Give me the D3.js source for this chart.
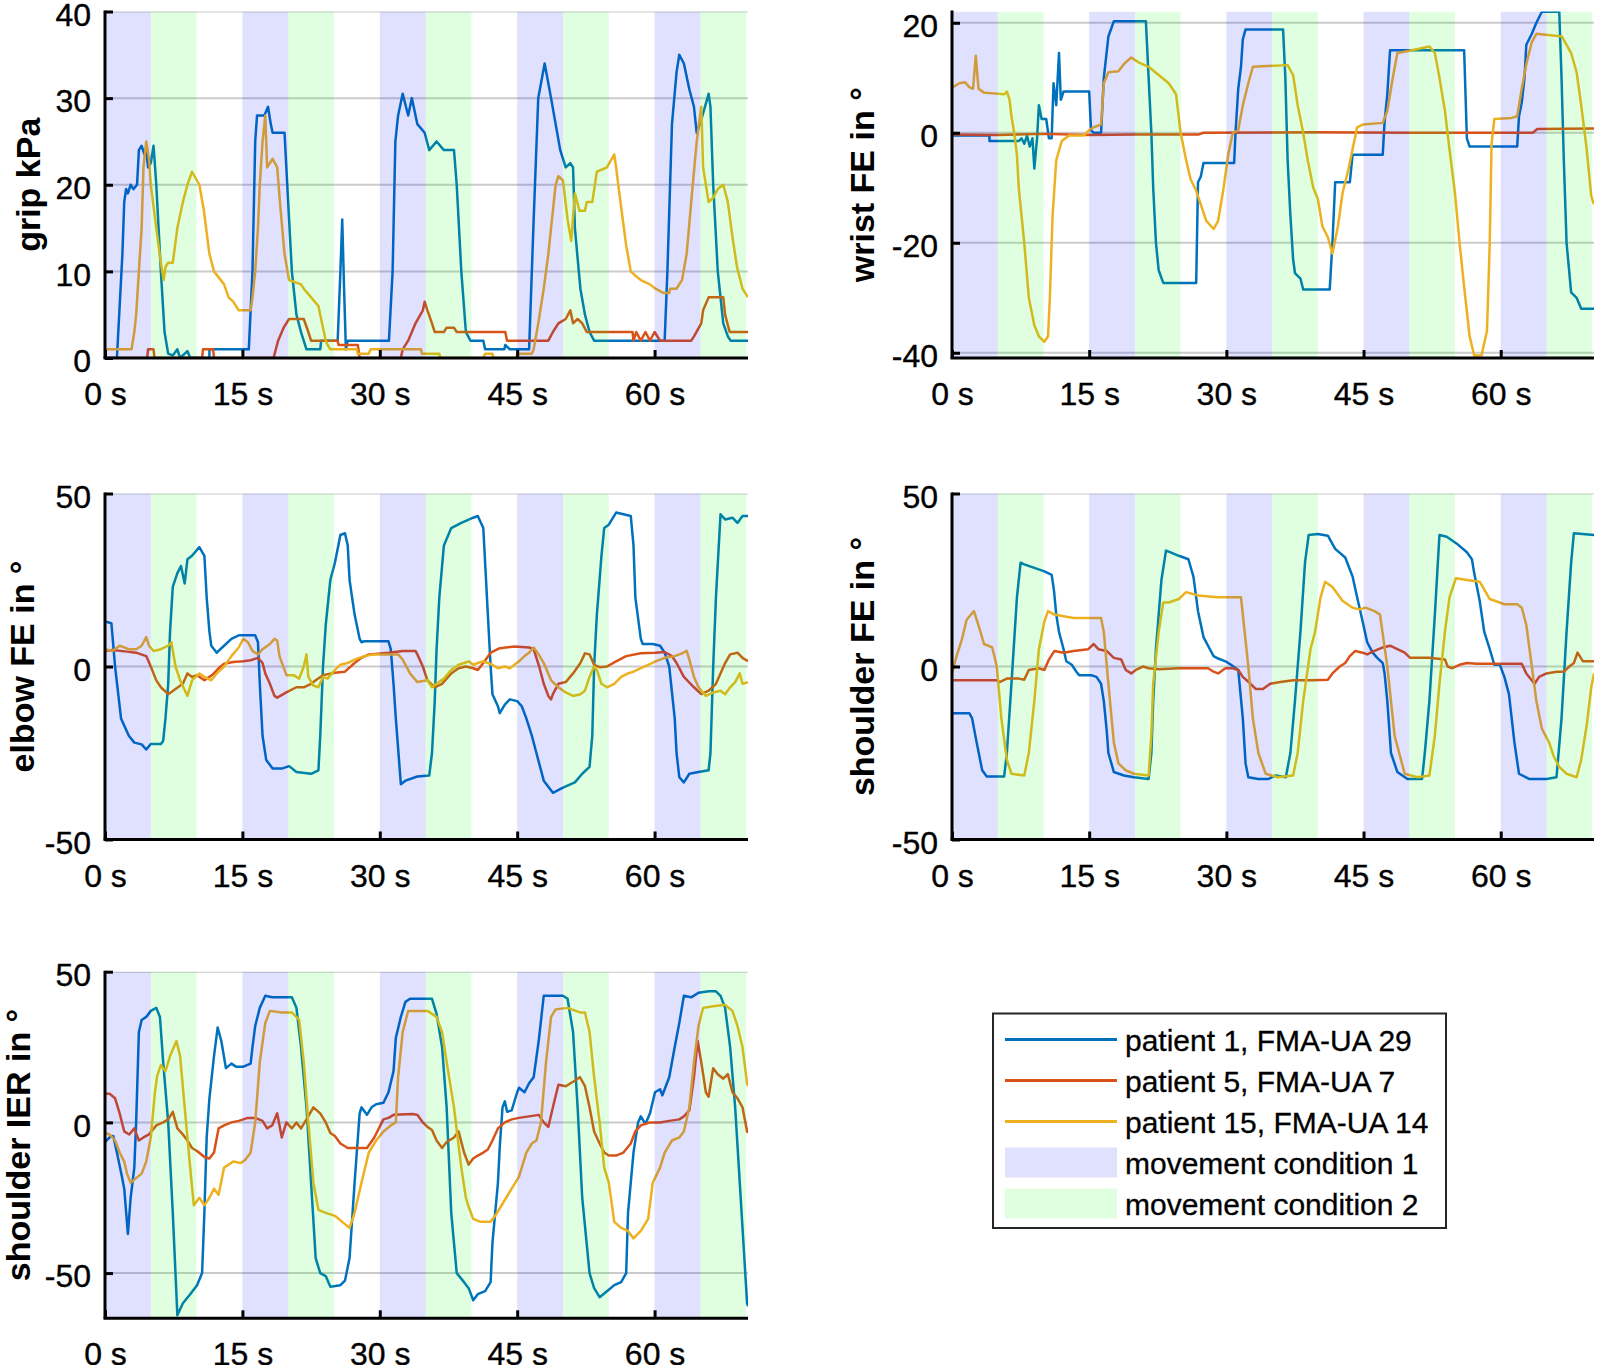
<!DOCTYPE html>
<html>
<head>
<meta charset="utf-8">
<script src="https://cdn.jsdelivr.net/npm/d3@7"></script>
<style>
  html, body { margin: 0; padding: 0; background: #ffffff; }
  svg { display: block; }
</style>
</head>
<body>
<svg id="chart" width="1601" height="1365"></svg>
<script>
// ---------------- DATA ----------------
const timeTicks = [0, 15, 30, 45, 60];
const timeTickLabels = ["0 s", "15 s", "30 s", "45 s", "60 s"];
const timeMax = 70.2;
const cond1Starts = [0, 15, 30, 45, 60];
const cond2Starts = [5, 20, 35, 50, 65];
const condDuration = 5;

const seriesNames = ["patient 1, FMA-UA 29", "patient 5, FMA-UA 7", "patient 15, FMA-UA 14"];
const bandNames = ["movement condition 1", "movement condition 2"];

const gripTicks = [0, 10, 20, 30, 40];
const wristTicks = [-40, -20, 0, 20];
const elbowTicks = [-50, 0, 50];
const shoulderFETicks = [-50, 0, 50];
const shoulderIERTicks = [-50, 0, 50];

// grip kPa  [time s, value]
const gripP1 = [[0,0],[1.3,0],[1.9,12],[2.1,18],[2.3,19.5],[2.5,19],[2.8,20],[3.1,19.5],[3.5,20],[3.7,24],[4.0,24.5],[4.3,23.5],[4.5,24],[4.7,22],[5.0,22.5],[5.3,24.5],[5.6,20],[6.1,10],[6.5,3],[6.9,0.5],[7.4,0.3],[7.9,1],[8.2,0],[9.0,0.8],[9.3,0],[11.4,0],[11.4,1],[15.7,1],[16.1,10],[16.4,25],[16.6,28],[17.4,28],[17.8,29],[18.1,27],[18.3,26],[19.6,26],[19.9,20],[20.4,10],[20.9,5],[21.4,3],[22.0,1],[23.5,1],[23.6,2],[25.4,2],[25.7,10],[25.9,16],[26.1,8],[26.3,1],[26.5,2],[31.0,2],[31.4,10],[31.7,25],[32.0,28],[32.5,30.5],[33.1,28],[33.5,30],[34.1,27],[34.9,26],[35.4,24],[36.2,25],[37.0,24],[38.1,24],[38.4,20],[38.9,10],[39.4,3],[39.9,2],[41.3,2],[41.5,1],[43.6,1],[43.7,1.5],[44.2,1],[46.3,1],[46.8,16],[47.3,30],[48.0,34],[48.7,30],[49.2,27],[49.7,24],[50.3,22],[50.8,22.5],[51.1,22],[51.3,15],[51.9,8],[52.4,5],[52.9,3],[53.4,2],[61.1,2],[61.4,10],[61.9,27],[62.4,33],[62.7,35],[63.2,34],[63.8,31],[64.3,29],[64.6,26],[65.1,27.5],[65.9,30.5],[66.1,29],[66.4,20],[66.9,10],[67.5,4],[68.0,2.5],[68.3,2],[70.2,2]];
const gripP5 = [[0,0],[4.6,0],[4.7,1],[5.3,1],[5.4,0],[10.6,0],[10.7,1],[11.8,1],[11.9,0],[18.4,0],[18.9,2],[19.5,3.5],[20.1,4.5],[21.7,4.5],[22.2,3],[22.5,2],[25.4,2],[25.5,1.5],[27.6,1.5],[27.8,0],[32.3,0],[32.5,1],[33.1,2],[33.9,4],[34.7,5.5],[34.9,6.5],[35.2,5.5],[35.7,4],[36,3],[37.0,3],[37.3,3.5],[38.1,3.5],[38.4,3],[43.7,3],[43.9,2],[48.4,2],[48.9,3],[49.5,4],[50.3,4.5],[50.8,5.5],[51.1,4],[51.6,4.5],[52.1,4],[52.6,3],[57.6,3],[57.7,2],[58.0,3],[58.5,2],[59.0,3],[59.5,2],[60.0,3],[60.6,2],[64.0,2],[64.3,2.5],[65.1,4],[65.3,5.5],[65.9,7],[67.5,7],[67.7,5],[68.2,3],[70.2,3]];
const gripP15 = [[0,1],[2.9,1],[3.2,3],[3.4,5],[3.7,10],[4.0,15],[4.2,22],[4.5,25],[4.8,23],[5.0,20],[5.6,15],[6.1,11],[6.4,9],[6.6,10.5],[6.9,11],[7.4,11],[7.9,15],[8.5,18],[9.0,20],[9.5,21.5],[10.3,20],[10.8,17],[11.4,12],[11.9,10],[13.0,8.5],[13.5,7],[14.0,6.5],[14.6,5.5],[15.9,5.5],[16.1,7],[16.4,10],[16.7,15],[16.9,20],[17.2,25],[17.5,28],[17.7,22],[18.3,23],[18.8,22],[19.1,18],[19.6,12],[20.1,9],[21.4,8.5],[21.7,8],[22.5,7],[23.3,6],[23.5,5],[23.8,3.5],[24.1,2],[24.3,1.5],[24.6,1],[27.5,1],[27.6,0.5],[28.8,0.5],[29,1],[34.5,1],[34.6,0.5],[36.5,0.5],[36.6,0],[41.3,0],[41.5,0.5],[42.3,0.5],[42.4,0],[44.9,0],[45.0,0.5],[46.6,0.5],[46.8,1],[47.3,4],[47.9,8],[48.4,12],[48.9,17],[49.2,20],[49.5,21],[50.0,20.5],[50.5,16],[50.9,13.5],[51.3,19],[51.8,17],[52.4,17],[52.6,18],[53.2,18],[53.7,21.5],[54.8,22],[55.6,23.5],[55.8,22],[56.4,17],[56.9,13],[57.4,10],[57.9,9.5],[58.5,9],[59.5,8.5],[60.1,8],[61,7.5],[61.6,7.5],[61.7,8],[62.4,8],[63.0,9],[63.5,12],[64.0,18],[64.6,25],[65.1,29],[65.3,22],[65.9,18],[66.4,18.5],[66.9,19.5],[67.5,20],[68.0,18],[68.5,14],[69.0,10.5],[69.6,8],[70.2,7]];

// wrist FE in degrees
const wristP1 = [[0,-0.5],[4.1,-0.5],[4.1,-1.5],[7.3,-1.5],[7.6,-1],[7.9,-2],[8.2,-0.5],[8.5,-2.5],[8.8,-1],[9.0,-6.5],[9.3,-1],[9.5,5],[9.8,2.5],[10.3,2.5],[10.6,-1],[10.9,-1],[11.1,9],[11.4,5],[11.7,14.5],[11.9,6],[12.2,7.5],[15.0,7.5],[15.2,0.5],[15.5,0],[16.3,0],[16.6,10],[17.1,17.5],[17.7,20.3],[21.2,20.3],[21.5,10],[21.8,0],[22.0,-10],[22.3,-20],[22.6,-25],[23.1,-27.3],[26.7,-27.3],[26.9,-9],[27.2,-8],[27.5,-5.5],[30.85,-5.5],[31.0,0],[31.3,8],[31.6,12],[31.8,17],[32.1,18.8],[36.2,18.8],[36.45,10],[36.7,-5],[37.0,-15],[37.3,-23],[37.5,-25.5],[38.1,-26.5],[38.4,-28.5],[41.3,-28.5],[41.6,-20],[41.9,-9],[43.5,-9],[43.8,-4],[47.1,-4],[47.3,2],[47.6,7],[47.9,15],[56.0,15],[56.3,-1],[56.6,-2.5],[61.8,-2.5],[62.0,3],[62.3,5.5],[62.6,10],[62.8,16],[63.4,18],[63.9,20],[64.5,22],[66.4,22],[66.65,10],[66.9,-5],[67.2,-20],[67.7,-29],[68.3,-30],[68.8,-32],[70.2,-32]];
const wristP5 = [[0,-0.3],[5,-0.4],[10,-0.2],[15,-0.4],[20,-0.3],[27,-0.3],[27.5,0],[40,0.1],[50,0],[63.5,0],[64,0.7],[70.2,0.8]];
const wristP15 = [[0,8.2],[0.8,9],[1.4,9.2],[1.9,8.3],[2.3,8],[2.6,14],[2.9,8],[3.5,7.3],[5.7,7],[6.0,7.5],[6.3,6],[6.5,3],[6.8,0],[7.1,-4],[7.3,-10],[7.9,-20],[8.4,-30],[9.0,-35],[9.5,-37],[10.1,-38],[10.5,-37],[10.7,-30],[11.0,-15],[11.4,-5],[12.0,-1.5],[12.8,-0.5],[14.4,-0.5],[15.0,0.5],[15.5,1],[16.3,1.5],[16.6,9],[17.1,11],[18.2,11.2],[18.8,12.5],[19.6,13.7],[20.4,12.8],[21.5,12],[22.6,10.5],[23.7,9],[24.5,7],[25.0,0],[25.6,-5],[26.1,-8.5],[26.7,-10.5],[27.2,-13],[27.8,-16],[28.6,-17.5],[29.1,-16],[29.7,-10],[30.2,-4],[30.7,0],[31.3,0.5],[31.8,5],[32.4,9],[32.9,12],[36.7,12.3],[37.3,10.5],[37.8,5],[38.4,0],[38.9,-5],[39.5,-10],[40.0,-12],[40.5,-17],[41.1,-19],[41.6,-22],[42.2,-17],[42.7,-11],[43.3,-7],[43.8,-3],[44.3,1],[44.9,1.5],[47.1,1.8],[47.6,4],[48.2,10],[48.7,14.5],[50.3,15],[52.2,15.7],[52.8,14.5],[53.3,10],[53.9,4],[54.4,-3],[55.0,-11],[55.5,-20],[56.0,-28],[56.6,-37],[57.1,-40.5],[57.9,-40.5],[58.5,-36],[58.8,-20],[59.0,-2],[59.3,2.5],[61.2,2.7],[61.8,3],[62.3,8],[62.8,12.5],[63.4,16.5],[63.9,18],[66.7,17.5],[67.2,16],[67.7,14.5],[68.3,11],[68.8,5],[69.4,-3],[69.9,-11.5],[70.2,-13]];

// elbow FE in degrees
const elbowP1 = [[0,13],[0.7,12.5],[1.1,0],[1.75,-15],[2.6,-20],[3.2,-22],[4.0,-22.5],[4.5,-24],[5.0,-22.4],[6.1,-22.4],[6.35,-21.5],[6.6,-15],[6.9,-5],[7.1,10],[7.4,23],[7.9,27],[8.3,29],[8.7,24],[9.0,31],[9.5,32],[10.3,34.5],[10.85,32],[11.1,20],[11.4,10],[11.6,6],[12.2,4],[13.0,6],[13.8,8],[14.6,9],[16.4,9],[16.7,7],[16.9,-5],[17.2,-20],[17.6,-27],[18.3,-29.5],[19.3,-29.5],[20.1,-28.8],[20.9,-30.5],[22.5,-31],[23.3,-30],[23.5,-20],[23.8,0],[24.1,12],[24.6,25],[25.1,30],[25.7,38],[26.2,38.5],[26.5,35],[26.7,25],[27.25,15],[27.8,8],[28.0,7],[28.3,7.3],[30.95,7.3],[31.2,5],[31.5,-5],[31.75,-15],[32.3,-34],[32.8,-33],[34.1,-31.8],[35.4,-31.5],[35.7,-25],[36.0,-10],[36.2,5],[36.5,20],[37.0,35],[37.8,40],[38.9,41.5],[40.2,43],[40.7,43.5],[41.3,40],[41.5,30],[41.8,15],[42.1,0],[42.3,-8],[42.9,-11.5],[43.1,-13.5],[43.65,-11],[44.2,-9.5],[45.0,-10],[45.5,-11.5],[46.0,-15],[46.6,-20],[47.1,-25],[47.9,-33],[48.9,-36.5],[50.0,-35],[51.3,-33.5],[52.1,-31],[52.9,-29],[53.2,-20],[53.4,0],[53.7,15],[54.2,32],[54.5,40],[55.0,41],[55.8,44.5],[57.4,43.5],[57.7,35],[57.9,20],[58.5,8],[58.7,6.5],[59.8,6.5],[60.6,6],[61.1,4],[61.6,0],[62.2,-15],[62.4,-25],[62.7,-32],[63.2,-33.5],[63.8,-31],[64.8,-30.5],[65.9,-30],[66.1,-25],[66.4,0],[66.7,20],[67.2,44],[67.7,42.5],[68.5,43],[69.05,41.5],[69.6,43.5],[70.2,43.5]];
const elbowP5 = [[0,4.5],[0.8,4.8],[2.4,4.3],[3.4,4],[4.5,3],[5.0,0],[5.6,-4],[6.1,-6],[6.9,-8],[7.7,-6.5],[8.5,-5],[9.0,-2],[9.5,-3],[10.05,-2.5],[10.85,-4],[11.4,-3],[11.9,-2],[12.4,-0.5],[13.0,0.8],[14.0,1.3],[15.1,1.5],[15.9,1.8],[16.7,2.5],[17.2,1],[17.5,-2],[18.0,-5],[18.5,-8.5],[18.8,-9],[19.8,-7.5],[20.9,-6],[21.7,-6],[22.5,-5],[23.0,-4],[23.8,-2.5],[25.1,-1.8],[26.2,-1.5],[27.25,1],[28.0,2.5],[28.8,3.5],[31.0,4],[32.5,4.5],[33.9,4.5],[34.1,3.5],[34.7,0],[35.2,-4],[36.0,-6],[36.8,-5],[37.8,-2],[38.6,-0.5],[39.4,0],[40.2,-0.5],[40.7,-1],[41.3,1],[42.1,4],[43.1,5.3],[44.7,5.8],[46.3,5.5],[46.8,5],[47.4,0],[47.9,-5],[48.4,-8.5],[48.7,-9.5],[48.9,-8],[49.5,-5],[50.3,-4.5],[51.1,-2],[51.9,1],[52.4,3.8],[52.9,3.5],[53.4,0.5],[54.0,-0.2],[54.8,0],[55.8,1.5],[56.9,3],[58.5,3.8],[60.1,4],[61.1,4.2],[61.9,3],[62.4,1],[63.2,-3],[64.3,-6],[65.1,-8],[65.9,-7],[66.7,-5],[67.2,-2],[67.7,1],[68.25,3.5],[69.05,4],[69.6,2.5],[70.2,1.5]];
const elbowP15 = [[0,5],[0.8,4.5],[1.6,6],[2.6,5],[3.4,5],[4.0,6],[4.5,8.5],[4.8,6],[5.3,4.5],[6.1,5],[6.9,6],[7.25,7],[7.7,0],[8.2,-4],[9.0,-8.5],[9.5,-4],[10.3,-2],[10.85,-3],[11.6,-4],[12.2,-2],[13.0,0],[13.8,3],[14.6,5.5],[15.1,8],[15.6,7],[16.1,4.5],[16.7,3.5],[17.2,5],[18.0,6.5],[18.5,8],[18.8,7.5],[19.05,3],[19.8,-2.5],[20.6,-2.5],[21.2,-3.5],[21.7,0],[22.0,3.5],[22.2,-3],[22.75,-5.5],[23.3,-6],[23.8,-3],[24.3,-3.5],[25.1,-1],[25.7,0.5],[26.5,1],[27.25,2],[28.3,3],[29.4,3.5],[31.5,3.5],[32.0,3.5],[32.5,2],[33.3,-2],[34.1,-4.5],[35.2,-4],[35.7,-6],[36.2,-5],[37.0,-3.5],[37.8,-1],[38.6,0.5],[39.2,1],[39.7,1.5],[40.2,0.5],[40.7,1],[41.3,1.5],[41.8,1],[42.3,0.5],[42.9,-0.5],[43.65,0],[44.2,-0.5],[44.7,0.5],[45.2,1.5],[45.8,3],[46.3,4],[46.8,5.5],[47.35,3.5],[47.9,1],[48.7,-4],[49.5,-6],[50.3,-7.5],[51.1,-8.5],[51.9,-8],[52.4,-7],[52.9,-3],[53.4,0],[53.7,-1],[54.2,-5],[54.8,-6],[55.6,-5],[56.35,-3],[57.1,-2],[57.7,-1.5],[58.5,-0.5],[59.3,0.5],[60.1,1.5],[61.1,2.5],[62.2,3],[63.0,3.8],[63.5,4.5],[63.8,2],[64.3,-3],[64.8,-6],[65.6,-8.5],[66.4,-7.5],[67.2,-7],[67.7,-8],[68.25,-6],[68.8,-4.5],[69.3,-2],[69.6,-5],[70.2,-4.5]];

// shoulder FE in degrees
const shoulderFEP1 = [[0,-13.5],[1.9,-13.5],[2.2,-15],[2.7,-22],[3.3,-30],[3.8,-31.8],[5.7,-31.8],[6.0,-25],[6.5,-5],[7.1,20],[7.5,30],[7.9,29.5],[9.0,28.5],[10.1,27.5],[10.9,26.5],[11.15,22],[11.4,15],[11.7,10],[12.0,7],[12.2,5],[12.5,1.5],[13.1,0.5],[13.6,-1.5],[13.9,-2.5],[15.2,-2.5],[15.8,-3],[16.3,-5],[16.6,-10],[16.9,-18],[17.1,-25],[17.7,-30.5],[18.8,-31.5],[19.9,-32],[21.5,-32.5],[21.8,-25],[22.0,-10],[22.3,5],[22.9,25],[23.4,33.5],[23.9,33],[24.8,32],[25.85,31],[26.4,26],[26.9,16],[27.5,8.5],[28.0,6],[28.6,3],[29.1,2.3],[29.9,1.5],[30.5,0.5],[31.3,-1],[31.8,-15],[32.1,-28],[32.4,-32],[33.5,-32.5],[34.6,-32.5],[35.4,-31.5],[36.5,-32],[37.0,-25],[37.5,-10],[38.1,10],[38.6,30],[39.0,38],[40.0,38.3],[41.1,37.8],[41.9,34],[43.0,31.5],[43.8,26],[44.3,20],[44.9,13],[45.4,7],[46.0,4],[46.5,2.5],[47.1,1],[47.3,-2],[47.6,-10],[48.0,-25],[48.7,-30.5],[49.8,-32.5],[51.4,-32.5],[51.7,-25],[52.2,-10],[52.8,15],[53.3,38],[54.1,37.5],[55.2,35.5],[56.3,33],[56.85,31],[57.1,27],[57.7,19],[58.2,10],[58.8,5],[59.3,0.5],[59.9,0.5],[60.4,-3],[60.9,-8],[61.5,-22],[62.0,-31],[63.1,-32.5],[65.0,-32.5],[66.1,-32],[66.65,-15],[67.2,10],[67.7,30],[68.0,38.5],[70.2,38]];
const shoulderFEP5 = [[0,-4],[4.9,-4],[5.2,-4.5],[6.0,-3.5],[7.3,-3.5],[7.9,-3.8],[8.4,-1],[9.5,-0.5],[10.1,-1],[10.6,2],[11.2,4.5],[12.2,4],[13.3,4.5],[14.9,5],[15.5,6.5],[16.0,5],[16.9,4.5],[17.7,2.5],[18.5,2],[19.0,-1],[19.6,-2],[20.1,-1],[20.9,0],[21.5,-0.5],[22.6,-0.8],[24.8,-0.5],[28.0,-0.5],[28.6,-1.5],[29.1,-2],[29.9,-0.5],[30.7,-0.5],[31.3,-1],[31.8,-3],[32.65,-5],[33.2,-6.5],[34.0,-6.5],[34.8,-5],[35.9,-4.5],[37.3,-4],[39.4,-4],[41.1,-3.8],[41.6,-2],[42.4,0],[43.0,1],[43.5,3],[44.1,4.5],[44.9,4],[45.4,3.5],[46.2,4.5],[47.1,5.5],[47.9,6],[48.7,5],[49.5,4],[50.1,2.5],[50.9,2.5],[52.2,2.5],[53.9,2],[54.2,0],[54.7,-0.5],[55.5,0.5],[56.3,1],[57.4,0.8],[60.7,0.8],[62.3,0.8],[62.8,-2],[63.7,-5],[64.2,-3],[65.0,-2],[66.1,-1.5],[66.9,-1.5],[67.5,0],[68.0,1],[68.4,4],[69.0,1.5],[70.2,1.5]];
const shoulderFEP15 = [[0,-2],[0.5,3],[1.1,8],[1.6,13.5],[2.4,16],[3.0,11],[3.5,6.5],[4.4,5.5],[4.9,0],[5.4,-15],[6.0,-27],[6.5,-31],[7.9,-31.5],[8.4,-25],[9.0,-10],[9.5,5],[10.1,13],[10.5,16],[11.2,15],[12.2,14.5],[13.3,14],[16.3,14],[16.6,10],[17.1,-5],[17.7,-22],[18.2,-28],[19.0,-30],[19.9,-31],[21.5,-31.5],[21.8,-20],[22.0,-5],[22.6,10],[23.1,18.5],[23.7,18.5],[24.8,19.5],[25.6,21.5],[26.9,20.5],[29.1,20],[31.6,20],[31.8,15],[32.4,0],[32.9,-15],[33.5,-25],[34.3,-31],[35.6,-32],[37.3,-31.5],[37.8,-25],[38.4,-10],[39.2,5],[39.7,10],[40.3,20],[40.8,24.5],[41.6,23],[42.7,19],[43.8,17],[44.6,16.5],[45.2,17],[46.2,16],[46.8,15],[47.6,0],[48.4,-20],[49.5,-31],[50.9,-32],[52.2,-31.5],[52.8,-20],[53.3,-5],[53.9,10],[54.4,20],[55.1,25.5],[56.3,25],[57.7,24.5],[58.8,19.5],[60.4,18],[61.8,18],[62.3,17],[62.8,12],[63.4,0],[63.9,-10],[64.5,-18],[65.3,-22],[65.8,-26],[66.4,-29],[67.2,-31],[68.3,-32],[68.8,-27],[69.4,-17],[69.9,-6],[70.2,-2]];

// shoulder IER in degrees
const shoulderIERP1 = [[0,-6.5],[0.5,-5],[0.9,-4.5],[1.3,-10],[1.85,-18],[2.1,-22],[2.5,-37],[2.8,-25],[3.2,-15],[3.4,0],[3.7,30],[4.0,34],[4.5,35],[5.0,37],[5.6,38],[6.0,35],[6.35,20],[6.9,0],[7.4,-30],[7.9,-64],[8.5,-60],[9.3,-57],[10.05,-54],[10.6,-50],[10.85,-30],[11.1,-5],[11.4,8],[11.9,22],[12.3,31.5],[12.7,27],[13.2,18],[13.8,19.5],[14.3,18.5],[15.1,18.5],[15.9,19.5],[16.1,25],[16.4,32],[16.9,38],[17.5,42],[18.25,41.5],[20.4,41.5],[20.9,38],[21.4,25],[22.0,5],[22.5,-20],[23.0,-45],[23.5,-50],[24.1,-51],[24.6,-54.5],[25.7,-54],[26.2,-52.5],[26.7,-45],[27.25,-20],[27.8,3],[28.0,5],[28.6,2.5],[29.1,5],[29.6,6],[30.4,6.5],[30.95,10],[31.5,17],[31.75,28],[32.3,35],[32.8,40],[33.3,41],[35.7,41],[36.2,36],[36.8,25],[37.3,5],[37.8,-30],[38.4,-50],[39.2,-53],[39.7,-55],[40.2,-59],[40.7,-57],[41.5,-56],[42.1,-53],[42.3,-40],[42.9,-20],[43.1,-8],[43.4,5],[43.65,7],[43.9,3.5],[44.4,4],[45.0,10],[45.2,11.5],[45.8,10],[46.3,13],[46.8,15],[47.35,27],[47.9,42],[50.0,42],[50.5,41],[51.1,30],[51.6,5],[52.1,-25],[52.9,-50],[53.4,-55],[54.0,-58],[54.8,-56],[55.6,-54],[56.35,-53],[56.9,-50],[57.1,-30],[57.7,-10],[58.2,0],[58.5,2],[59.0,-0.5],[59.5,3],[60.05,10],[60.6,11],[60.85,9],[61.6,15],[62.2,25],[62.7,33],[63.2,42],[64.0,41.5],[64.8,43],[65.9,43.5],[66.7,43.5],[67.2,42],[67.7,38],[68.25,25],[68.8,5],[69.3,-20],[69.8,-45],[70.1,-60],[70.2,-61]];
const shoulderIERP5 = [[0,9.5],[0.5,9.5],[1.1,8],[1.6,3],[2.1,-3],[2.65,-4],[3.2,-2],[3.7,-6],[4.2,-5],[4.8,-4],[5.6,-1],[6.35,0],[6.9,1],[7.4,3.5],[7.9,-2],[8.5,-4],[9.0,-6],[9.5,-8.5],[10.05,-9.5],[10.85,-11.5],[11.4,-12],[11.9,-10],[12.4,-2],[13.0,-1],[13.8,0],[14.6,0.5],[15.6,1.5],[16.4,1.5],[17.2,0.5],[17.7,-2],[18.25,-1],[18.8,3],[19.3,-5],[19.8,0],[20.4,-2],[20.9,0],[21.4,-2],[22.0,1],[22.75,5],[23.5,3],[24.1,0],[24.6,-3.5],[25.1,-4.5],[25.7,-7],[26.5,-8.5],[27.8,-8.5],[28.6,-8.5],[29.4,-5],[29.9,-2],[30.4,1],[30.95,1.5],[31.5,2.5],[33.6,2.8],[34.1,2.5],[34.7,0],[35.2,-1.5],[35.7,-2.5],[36.2,-6],[36.8,-8.5],[37.3,-6.5],[38.1,-5],[38.6,-3],[39.2,-10],[39.7,-14],[40.2,-12],[40.7,-11],[41.3,-10],[41.8,-9],[42.3,-6],[42.9,-2],[43.65,0],[44.4,1],[45.2,1.5],[46.3,2],[47.35,2.5],[47.9,0],[48.4,-1.5],[48.9,5],[49.5,12.5],[50.3,12],[51.1,13.5],[51.85,15],[52.4,12],[52.9,5],[53.4,-3],[54.0,-7],[54.5,-10],[55.0,-11],[55.8,-11],[56.6,-10],[57.4,-7],[57.9,-3],[58.5,-1],[59.5,0],[60.6,0],[61.6,0.5],[62.7,1],[63.2,2],[63.8,4],[64.3,15],[64.7,27],[65.1,20],[65.6,10],[65.9,8.5],[66.4,18],[66.9,16],[67.5,14.5],[68.0,16],[68.5,10],[69.05,8],[69.6,5],[70.1,-3],[70.2,-3.5]];
const shoulderIERP15 = [[0,-3.5],[0.5,-4],[1.1,-6],[1.6,-10],[2.1,-13],[2.4,-17],[2.8,-20],[3.4,-18.5],[4.0,-17],[4.5,-13],[5.0,-5],[5.45,10],[5.7,15.5],[6.1,19],[6.6,17],[7.1,22],[7.8,27],[8.2,22],[8.7,5],[9.3,-15],[9.7,-27.5],[10.3,-25],[10.85,-27.5],[11.4,-25],[11.9,-22],[12.4,-24],[13.0,-15],[13.5,-14],[14.0,-13],[14.8,-13.5],[15.3,-12.5],[15.9,-10],[16.4,0],[16.9,20],[17.5,33],[18.0,37],[19.3,36.5],[20.4,36.5],[21.2,34],[21.7,20],[22.2,0],[22.75,-20],[23.3,-29],[24.1,-30],[25.1,-31],[25.9,-33],[26.7,-35],[27.25,-30],[28.0,-20],[28.8,-10],[29.6,-6],[30.4,-3],[31.2,-1],[31.75,0],[32.0,15],[32.5,30],[33.1,37],[35.2,37],[36.2,35],[36.8,30],[37.3,20],[38.1,5],[38.9,-15],[39.4,-25],[39.7,-28],[40.2,-32],[41.0,-33],[42.1,-33],[42.6,-31],[43.4,-27],[44.4,-22],[45.2,-18],[46.0,-10],[46.6,-7],[47.1,-6],[47.6,0],[48.15,20],[48.7,35],[49.2,37.5],[50.5,38],[51.85,36.5],[52.4,36.5],[52.9,30],[53.4,15],[54.0,0],[54.5,-15],[55.0,-20],[55.6,-33],[56.35,-35],[57.1,-36],[57.7,-38.5],[58.5,-36],[59.3,-32],[59.8,-20],[60.6,-15],[61.1,-10],[61.9,-6],[62.7,-5],[63.2,-3],[63.8,5],[64.3,20],[64.8,32],[65.3,38],[66.4,38.5],[67.7,39],[68.5,37],[69.05,32],[69.6,25],[70.1,13],[70.2,12]];

// ---------------- STYLE / LAYOUT ----------------
const FONT = "'Liberation Sans', Arial, Helvetica, sans-serif";
const lineColors = ["#0072BD", "#D95319", "#EDB120"];
const bandColors = ["#0000ff", "#00ff00"];
const bandOpacity = 0.12;
const fmtTick = d => String(d); // plain hyphen-minus like the original

const panels = [
  { label: "grip kPa", series: [gripP1, gripP5, gripP15], yDomain: [0, 40], ticks: gripTicks,
    x0: 105, x1: 748, y0: 11.5, y1: 358, labelX: 40 },
  { label: "wrist FE in °", series: [wristP1, wristP5, wristP15], yDomain: [-40.95, 22.05], ticks: wristTicks,
    x0: 952, x1: 1594, y0: 11.5, y1: 358, labelX: 874 },
  { label: "elbow FE in °", series: [elbowP1, elbowP5, elbowP15], yDomain: [-50, 50], ticks: elbowTicks,
    x0: 105, x1: 748, y0: 493.5, y1: 839.5, labelX: 34 },
  { label: "shoulder FE in °", series: [shoulderFEP1, shoulderFEP5, shoulderFEP15], yDomain: [-50, 50], ticks: shoulderFETicks,
    x0: 952, x1: 1594, y0: 493.5, y1: 839.5, labelX: 874 },
  { label: "shoulder IER in °", series: [shoulderIERP1, shoulderIERP5, shoulderIERP15], yDomain: [-65, 50], ticks: shoulderIERTicks,
    x0: 105, x1: 748, y0: 971.7, y1: 1318.3, labelX: 30 }
];

const svg = d3.select("#chart");
const defs = svg.append("defs");

panels.forEach((p, i) => {
  const x = d3.scaleLinear().domain([0, timeMax]).range([p.x0, p.x1]);
  const y = d3.scaleLinear().domain(p.yDomain).range([p.y1, p.y0]);

  const clipId = "clip" + i;
  defs.append("clipPath").attr("id", clipId)
    .append("rect").attr("x", p.x0).attr("y", p.y0)
    .attr("width", p.x1 - p.x0).attr("height", p.y1 - p.y0);

  const g = svg.append("g");
  const inner = g.append("g").attr("clip-path", `url(#${clipId})`);

  // grid
  inner.selectAll("line.grid").data(p.ticks).join("line")
    .attr("x1", p.x0).attr("x2", p.x1)
    .attr("y1", d => y(d)).attr("y2", d => y(d))
    .attr("stroke", "#cbcbcb").attr("stroke-width", 2);

  // lines
  const lineGen = d3.line().x(d => x(d[0])).y(d => y(d[1]));
  p.series.forEach((s, k) => {
    inner.append("path").datum(s)
      .attr("d", lineGen)
      .attr("fill", "none")
      .attr("stroke", lineColors[k])
      .attr("stroke-width", 2.5)
      .attr("stroke-linejoin", "round");
  });

  // bands (drawn over lines, semi-transparent)
  [cond1Starts, cond2Starts].forEach((starts, b) => {
    inner.selectAll(null).data(starts).join("rect")
      .attr("x", d => x(d))
      .attr("width", d => x(Math.min(d + condDuration, timeMax)) - x(d))
      .attr("y", p.y0).attr("height", p.y1 - p.y0)
      .attr("fill", bandColors[b]).attr("fill-opacity", bandOpacity);
  });

  // y axis
  const yAxis = d3.axisLeft(y).tickValues(p.ticks).tickFormat(fmtTick)
    .tickSizeInner(-8).tickSizeOuter(0).tickPadding(18);
  const ga = g.append("g").attr("transform", `translate(${p.x0},0)`).call(yAxis);
  ga.select(".domain").attr("stroke", "#000").attr("stroke-width", 3)
    .attr("d", `M0,${p.y0 - 1}V${p.y1}`);
  ga.selectAll(".tick line").attr("stroke", "#000").attr("stroke-width", 3);
  ga.selectAll(".tick text").attr("font-family", FONT).attr("font-size", 32)
    .attr("fill", "#000").attr("stroke", "#000").attr("stroke-width", 0.35)
    .attr("x", -14).attr("dy", "0.43em");

  // x axis
  const xAxis = d3.axisBottom(x).tickValues(timeTicks)
    .tickFormat((d, j) => timeTickLabels[j]).tickSizeInner(-8).tickSizeOuter(0).tickPadding(26);
  const gx = g.append("g").attr("transform", `translate(0,${p.y1})`).call(xAxis);
  gx.select(".domain").attr("stroke", "#000").attr("stroke-width", 3)
    .attr("d", `M${p.x0 - 1.5},0H${p.x1}`);
  gx.selectAll(".tick line").attr("stroke", "#000").attr("stroke-width", 3);
  gx.selectAll(".tick text").attr("font-family", FONT).attr("font-size", 32)
    .attr("fill", "#000").attr("stroke", "#000").attr("stroke-width", 0.35)
    .attr("y", 47).attr("dy", 0);

  // y label
  g.append("text")
    .attr("transform", `translate(${p.labelX},${(p.y0 + p.y1) / 2}) rotate(-90)`)
    .attr("text-anchor", "middle")
    .attr("font-family", FONT).attr("font-size", 34).attr("font-weight", "bold")
    .attr("fill", "#000")
    .text(p.label);
});

// ---------------- LEGEND ----------------
const lg = svg.append("g");
lg.append("rect").attr("x", 993).attr("y", 1013.5).attr("width", 453).attr("height", 214.5)
  .attr("fill", "#fff").attr("stroke", "#262626").attr("stroke-width", 2);
const rowY = d3.scalePoint().domain(d3.range(5)).range([1039.5, 1203.5]);
seriesNames.forEach((name, k) => {
  lg.append("line").attr("x1", 1005).attr("x2", 1117)
    .attr("y1", rowY(k)).attr("y2", rowY(k))
    .attr("stroke", lineColors[k]).attr("stroke-width", 2.8);
  lg.append("text").attr("x", 1125).attr("y", rowY(k)).attr("dy", "0.38em")
    .attr("font-family", FONT).attr("font-size", 30).attr("fill", "#000")
    .attr("stroke", "#000").attr("stroke-width", 0.3).text(name);
});
bandNames.forEach((name, b) => {
  const cy = rowY(3 + b);
  lg.append("rect").attr("x", 1005).attr("y", cy - 15).attr("width", 112).attr("height", 30)
    .attr("fill", bandColors[b]).attr("fill-opacity", bandOpacity);
  lg.append("text").attr("x", 1125).attr("y", cy).attr("dy", "0.38em")
    .attr("font-family", FONT).attr("font-size", 30).attr("fill", "#000")
    .attr("stroke", "#000").attr("stroke-width", 0.3).text(name);
});
</script>
</body>
</html>
